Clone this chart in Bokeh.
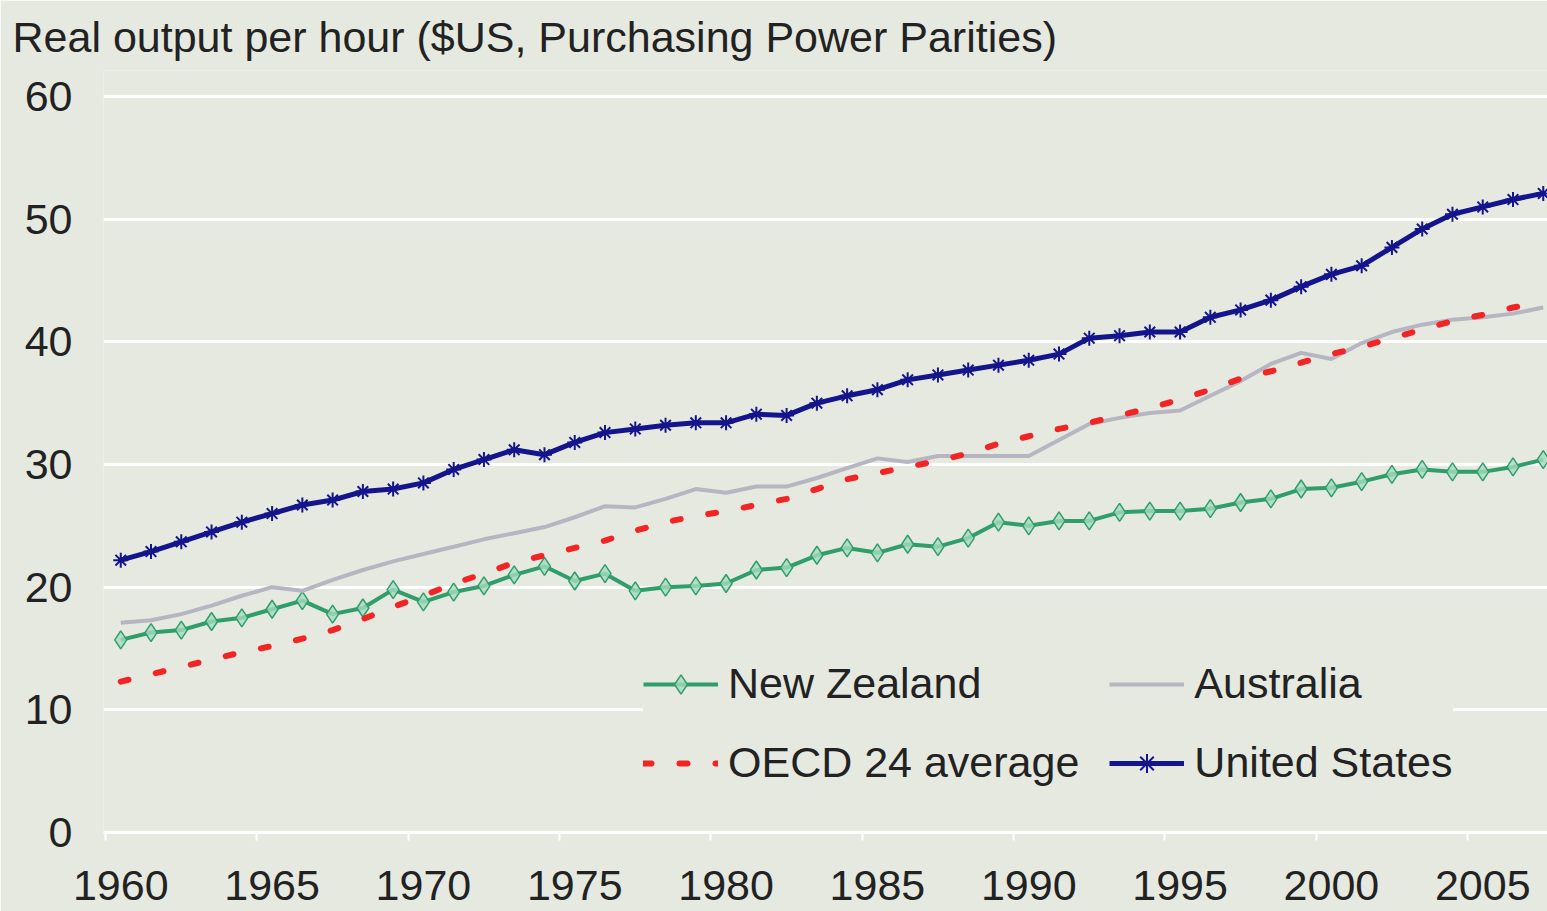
from bokeh.plotting import figure
from bokeh.models import Range1d, FixedTicker, Legend, LegendItem
from bokeh.embed import file_html
from bokeh.resources import INLINE

# ---- data -------------------------------------------------------------
years = list(range(1960, 2008))

new_zealand = [15.7, 16.3, 16.5, 17.2, 17.5, 18.2, 18.9, 17.8, 18.3, 19.8,
               18.8, 19.6, 20.1, 21.0, 21.7, 20.5, 21.1, 19.7, 20.0, 20.1,
               20.3, 21.4, 21.6, 22.6, 23.2, 22.8, 23.5, 23.3, 24.0, 25.3,
               25.0, 25.4, 25.4, 26.1, 26.2, 26.2, 26.4, 26.9, 27.2, 28.0,
               28.1, 28.6, 29.2, 29.6, 29.4, 29.4, 29.8, 30.4]

australia = [17.1, 17.3, 17.8, 18.5, 19.3, 20.0, 19.7, 20.6, 21.4, 22.1,
             22.7, 23.3, 23.9, 24.4, 24.9, 25.7, 26.6, 26.5, 27.2, 28.0,
             27.7, 28.2, 28.2, 28.9, 29.7, 30.5, 30.2, 30.7, 30.7, 30.7,
             30.7, 32.0, 33.3, 33.8, 34.2, 34.4, 35.6, 36.8, 38.2, 39.1,
             38.6, 39.9, 40.8, 41.4, 41.8, 42.0, 42.3, 42.8]

oecd_average = [12.3, 12.9, 13.5, 14.1, 14.7, 15.2, 15.8, 16.5, 17.4, 18.4,
                19.3, 20.3, 21.1, 22.0, 22.6, 23.2, 23.8, 24.6, 25.3, 25.8,
                26.2, 26.7, 27.2, 28.0, 28.8, 29.3, 29.8, 30.3, 30.9, 31.7,
                32.3, 32.9, 33.4, 34.0, 34.6, 35.3, 36.1, 37.0, 37.6, 38.3,
                39.0, 39.6, 40.3, 41.0, 41.7, 42.2, 42.8, 43.2]

united_states = [22.2, 22.9, 23.7, 24.5, 25.3, 26.0, 26.7, 27.1, 27.8, 28.0,
                 28.5, 29.6, 30.4, 31.2, 30.8, 31.8, 32.6, 32.9, 33.2, 33.4,
                 33.4, 34.1, 34.0, 35.0, 35.6, 36.1, 36.9, 37.3, 37.7, 38.1,
                 38.5, 39.0, 40.3, 40.5, 40.8, 40.8, 42.0, 42.6, 43.4, 44.5,
                 45.5, 46.2, 47.7, 49.2, 50.4, 51.0, 51.6, 52.1]

y_ticks = [0, 10, 20, 30, 40, 50, 60]
x_label_years = [1960, 1965, 1970, 1975, 1980, 1985, 1990, 1995, 2000, 2005]

title_text = "Real output per hour ($US, Purchasing Power Parities)"
series_labels = ["New Zealand", "Australia", "OECD 24 average", "United States"]

# ---- style ------------------------------------------------------------
BG = "#e5e9e0"
TEXT = "#222222"
FONT = "Liberation Sans"
FS = "43px"
NZ_C = "#2f9e6a"
AU_C = "#b6b6c2"
OECD_C = "#f22424"
US_C = "#14148c"

p = figure(width=1547, height=911, output_backend="svg", toolbar_location=None,
           x_range=Range1d(1959.43, 2007.14), y_range=Range1d(0, 62.12),
           min_border_left=103, min_border_right=0, min_border_top=70,
           min_border_bottom=79,
           background_fill_color=BG, border_fill_color=BG,
           outline_line_color=None)

p.title.text = title_text
p.title.text_font = FONT
p.title.text_font_size = FS
p.title.text_font_style = "normal"
p.title.text_color = TEXT
p.title.align = "left"
p.title.offset = -91
p.title.standoff = 19

# y axis
p.yaxis.ticker = FixedTicker(ticks=y_ticks)
p.yaxis.axis_line_color = None
p.yaxis.major_tick_line_color = None
p.yaxis.minor_tick_line_color = None
p.yaxis.major_tick_out = 0
p.yaxis.major_label_standoff = 31
p.yaxis.major_label_text_font = FONT
p.yaxis.major_label_text_font_size = FS
p.yaxis.major_label_text_color = TEXT

# x axis (category style: ticks between years, labels at years)
p.xaxis.ticker = FixedTicker(ticks=x_label_years,
                             minor_ticks=[y - 0.5 for y in x_label_years])
p.xaxis.axis_line_color = "white"
p.xaxis.axis_line_width = 3
p.xaxis.major_tick_line_color = None
p.xaxis.major_tick_out = 0
p.xaxis.major_tick_in = 0
p.xaxis.minor_tick_line_color = "white"
p.xaxis.minor_tick_line_width = 2
p.xaxis.minor_tick_out = 8
p.xaxis.minor_tick_in = 0
p.xaxis.major_label_standoff = 30
p.xaxis.major_label_text_font = FONT
p.xaxis.major_label_text_font_size = FS
p.xaxis.major_label_text_color = TEXT
p.xaxis.major_label_overrides = {y: str(y) for y in x_label_years}

p.xgrid.visible = False
p.ygrid.grid_line_color = "white"
p.ygrid.grid_line_width = 3

# ---- series -----------------------------------------------------------
nz_line = p.line(years, new_zealand, line_color=NZ_C, line_width=4)
nz_pts = p.scatter(years, new_zealand, marker="diamond", size=18,
                   fill_color="#a6dbbf", fill_alpha=0.8, line_color=NZ_C,
                   line_width=1.5)
au_line = p.line(years, australia, line_color=AU_C, line_width=4)
oecd_line = p.line(years, oecd_average, line_color=OECD_C, line_width=6,
                   line_dash="8 28", line_cap="round")
us_line = p.line(years, united_states, line_color=US_C, line_width=5)
us_pts = p.scatter(years, united_states, marker="asterisk", size=15,
                   line_color=US_C, line_width=2)

legend = Legend(items=[
    LegendItem(label=series_labels[0], renderers=[nz_line, nz_pts]),
    LegendItem(label=series_labels[2], renderers=[oecd_line]),
    LegendItem(label=series_labels[1], renderers=[au_line]),
    LegendItem(label=series_labels[3], renderers=[us_line, us_pts]),
], ncols=2, location=(540, 45))
legend.label_text_font = FONT
legend.label_text_font_size = FS
legend.label_text_color = TEXT
legend.glyph_width = 75
legend.glyph_height = 48
legend.label_height = 48
legend.label_standoff = 10
legend.spacing = 30
legend.padding = 15
legend.margin = 0
legend.background_fill_color = BG
legend.background_fill_alpha = 1
legend.border_line_color = None
p.add_layout(legend)

open("out.html", "w").write(file_html(p, INLINE))
